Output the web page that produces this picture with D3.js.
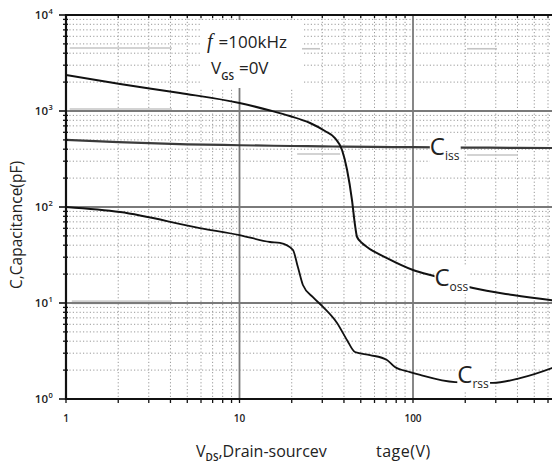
<!DOCTYPE html>
<html>
<head>
<meta charset="utf-8">
<script src="https://cdn.jsdelivr.net/npm/d3@7/dist/d3.min.js"></script>
<style>
  html, body { margin: 0; padding: 0; background: #fff; }
  svg { display: block; }
  text { font-family: "Open Sans", "Noto Sans", sans-serif; fill: #222; }
</style>
</head>
<body>
<div id="chart"></div>
<script>
// Drain-source voltage (V) sample points and capacitances (pF)
const cissV = [1, 2, 5, 10, 20, 30, 40, 60, 100, 200, 400, 1000];
const cissC = [500, 475, 450, 440, 432, 428, 425, 422, 420, 416, 413, 410];

const cossV = [1, 2.05, 4.54, 10, 15, 19.5, 25.5, 31.1, 35.5, 39, 41.7, 44.5, 46.3, 47.6, 51, 54.3, 70.8, 100, 137, 222, 377, 632, 1000];
const cossC = [2370, 1911, 1540, 1211, 1012, 887, 750, 619, 523, 392, 243, 118, 65, 48.7, 42, 38.3, 29.4, 22.1, 18.7, 14.3, 12.1, 10.7, 9.8];

const crssV = [1, 2.05, 5.9, 10, 15, 17.1, 20.3, 21.7, 23.2, 26.5, 30.3, 36.5, 41.7, 46.3, 56.5, 70.8, 78.7, 96.1, 110, 175, 289, 414, 632, 1000];
const crssC = [100, 88.7, 60.4, 51, 43.2, 42.2, 35.7, 23.7, 15.4, 11.5, 9.1, 6.2, 4.1, 3.09, 2.87, 2.55, 2.15, 1.91, 1.78, 1.5, 1.47, 1.65, 2.1, 3.0];

// Series names, label anchors (V, pF) for the "C" glyph and subscripts
const seriesNames = ["iss", "oss", "rss"];
const labelV = [125, 133, 180];
const labelC = [350, 15, 1.47];

// Axis ticks
const xDecades = [1, 10, 100, 1000];
const xLabelled = [1, 10, 100];
const xTickLabels = ["1", "10", "100"];
const yDecades = [1, 10, 100, 1000, 10000];
const yTickExp = ["0", "1", "2", "3", "4"];

// Faint grey rule segments printed on the sheet: [V start, V end, pF]
const faintSegs = [
  [1.05, 4.08, 4530], [1.05, 4.08, 1050], [20.3, 29.1, 4450],
  [21.5, 38, 356], [205, 305, 4450], [205, 398, 348]
];
const faintBand = [1.08, 4.08, 10.2];

const W = 552, H = 468;
const svg = d3.select("#chart").append("svg").attr("width", W).attr("height", H);

const x = d3.scaleLog().domain([1, 1000]).range([66, 586.5]);
const y = d3.scaleLog().domain([1, 10000]).range([399, 15]);
const [x0, x1] = x.range();
const [y0, y1] = y.range();

svg.append("clipPath").attr("id", "plot")
  .append("rect").attr("x", x0).attr("y", y1).attr("width", x1 - x0).attr("height", y0 - y1);

const plot = svg.append("g").attr("clip-path", "url(#plot)");

// minor values (2..9 in each decade)
const minor = decs => decs.slice(0, -1).flatMap(d => d3.range(2, 10).map(k => k * d));
const xMinor = minor(xDecades);
const yMinor = minor(yDecades);

// minor dotted grid
plot.append("g").selectAll("line").data(xMinor).join("line")
  .attr("x1", d => x(d)).attr("x2", d => x(d)).attr("y1", y1).attr("y2", y0)
  .attr("stroke", "#999").attr("stroke-width", 1).attr("stroke-dasharray", "1.2,2.2");
plot.append("g").selectAll("line").data(yMinor).join("line")
  .attr("y1", d => y(d)).attr("y2", d => y(d)).attr("x1", x0).attr("x2", x1)
  .attr("stroke", "#999").attr("stroke-width", 1).attr("stroke-dasharray", "1.2,2.2");

// faint grey rules
plot.append("g").selectAll("line").data(faintSegs).join("line")
  .attr("x1", d => x(d[0])).attr("x2", d => x(d[1])).attr("y1", d => y(d[2])).attr("y2", d => y(d[2]))
  .attr("stroke", "#c4c4c4").attr("stroke-width", 1.6);
plot.append("line")
  .attr("x1", x(faintBand[0])).attr("x2", x(faintBand[1])).attr("y1", y(faintBand[2])).attr("y2", y(faintBand[2]))
  .attr("stroke", "#cfcfcf").attr("stroke-width", 4);

// major grid
plot.append("g").selectAll("line").data(xDecades.slice(1, -1)).join("line")
  .attr("x1", d => x(d)).attr("x2", d => x(d)).attr("y1", y1).attr("y2", y0)
  .attr("stroke", "#7a7a7a").attr("stroke-width", 1.8);
plot.append("g").selectAll("line").data(yDecades.slice(1, -1)).join("line")
  .attr("y1", d => y(d)).attr("y2", d => y(d)).attr("x1", x0).attr("x2", x1)
  .attr("stroke", "#7a7a7a").attr("stroke-width", 1.8);

// annotation block with a white backing
const note = svg.append("g");
note.append("rect").attr("fill", "#fff")
  .attr("x", 200).attr("y", 20).attr("width", 102).attr("height", 68);
const t1 = note.append("text").attr("x", 207).attr("y", 48).attr("font-size", 17);
t1.append("tspan").attr("font-family", "'Liberation Serif', serif").attr("font-style", "italic")
  .attr("font-size", 20).text("f");
t1.append("tspan").attr("dx", 6).text("=100kHz");
const t2 = note.append("text").attr("x", 211).attr("y", 74).attr("font-size", 17);
t2.append("tspan").text("V");
t2.append("tspan").attr("font-size", 10).attr("dy", 6).attr("font-weight", 600).text("GS");
t2.append("tspan").attr("dy", -6).attr("dx", 5).text("=0V");

// curves
const line = d3.line().x(d => x(d[0])).y(d => y(d[1])).curve(d3.curveMonotoneX);
const series = [
  { v: cissV, c: cissC, color: "#3a3a3a", w: 2.2 },
  { v: cossV, c: cossC, color: "#111", w: 2 },
  { v: crssV, c: crssC, color: "#111", w: 1.8 }
];
plot.append("g").selectAll("path").data(series).join("path")
  .attr("d", s => line(d3.zip(s.v, s.c)))
  .attr("fill", "none").attr("stroke", s => s.color).attr("stroke-width", s => s.w)
  .attr("stroke-linejoin", "round");

// curve labels
seriesNames.forEach((name, i) => {
  const g = svg.append("g");
  const bg = g.append("rect").attr("fill", "#fff");
  const t = g.append("text").attr("x", x(labelV[i])).attr("y", y(labelC[i]));
  t.append("tspan").attr("font-size", 24).text("C");
  t.append("tspan").attr("font-size", 12).attr("dy", 5).text(name);
  const b = t.node().getBBox();
  bg.attr("x", b.x).attr("y", b.y + 5).attr("width", b.width + 1).attr("height", b.height - 6);
});

// axes frame
svg.append("line").attr("x1", x0).attr("x2", W).attr("y1", y1).attr("y2", y1)
  .attr("stroke", "#111").attr("stroke-width", 2.2);
svg.append("line").attr("x1", x0).attr("x2", W).attr("y1", y0).attr("y2", y0)
  .attr("stroke", "#111").attr("stroke-width", 2.2);
svg.append("line").attr("x1", x0).attr("x2", x0).attr("y1", y1 - 1).attr("y2", y0 + 1)
  .attr("stroke", "#111").attr("stroke-width", 2.2);

// tick marks
svg.append("g").selectAll("line").data(yMinor).join("line")
  .attr("x1", x0 - 3).attr("x2", x0 + 2).attr("y1", d => y(d)).attr("y2", d => y(d))
  .attr("stroke", "#111").attr("stroke-width", 1.3);
svg.append("g").selectAll("line").data(yDecades).join("line")
  .attr("x1", x0 - 7).attr("x2", x0).attr("y1", d => y(d)).attr("y2", d => y(d))
  .attr("stroke", "#111").attr("stroke-width", 1.6);
svg.append("g").selectAll("line").data(xMinor.concat(xDecades)).join("line")
  .attr("x1", d => x(d)).attr("x2", d => x(d)).attr("y1", y0).attr("y2", y0 + 4)
  .attr("stroke", "#111").attr("stroke-width", 1.3);
svg.append("g").selectAll("line").data(xMinor).join("line")
  .attr("x1", d => x(d)).attr("x2", d => x(d)).attr("y1", y1).attr("y2", y1 + 3)
  .attr("stroke", "#111").attr("stroke-width", 1.3);

// y tick labels (powers of ten)
svg.append("g").selectAll("text").data(yDecades).join("text")
  .attr("x", 48).attr("y", d => y(d) + 4).attr("text-anchor", "end")
  .attr("font-size", 11.5).attr("font-weight", 600).text("10");
svg.append("g").selectAll("text").data(yDecades).join("text")
  .attr("x", 48.5).attr("y", d => y(d) - 1)
  .attr("font-size", 7.5).attr("font-weight", 600).text((d, i) => yTickExp[i]);

// x tick labels
svg.append("g").selectAll("text").data(xLabelled).join("text")
  .attr("x", d => x(d)).attr("y", 422).attr("text-anchor", "middle")
  .attr("font-size", 10).attr("font-weight", 600).text((d, i) => xTickLabels[i]);

// axis titles
svg.append("text").attr("transform", "translate(22,225) rotate(-90)")
  .attr("text-anchor", "middle").attr("font-size", 15.5).text("C,Capacitance(pF)");
const xt = svg.append("text").attr("x", 196).attr("y", 457).attr("font-size", 16);
xt.append("tspan").text("V");
xt.append("tspan").attr("font-size", 10).attr("dy", 4).attr("font-weight", 600).text("DS");
xt.append("tspan").attr("dy", -4).text(",Drain-sourcev");
svg.append("text").attr("x", 376).attr("y", 457).attr("font-size", 16)
  .attr("letter-spacing", 0.5).text("tage(V)");
</script>
</body>
</html>
